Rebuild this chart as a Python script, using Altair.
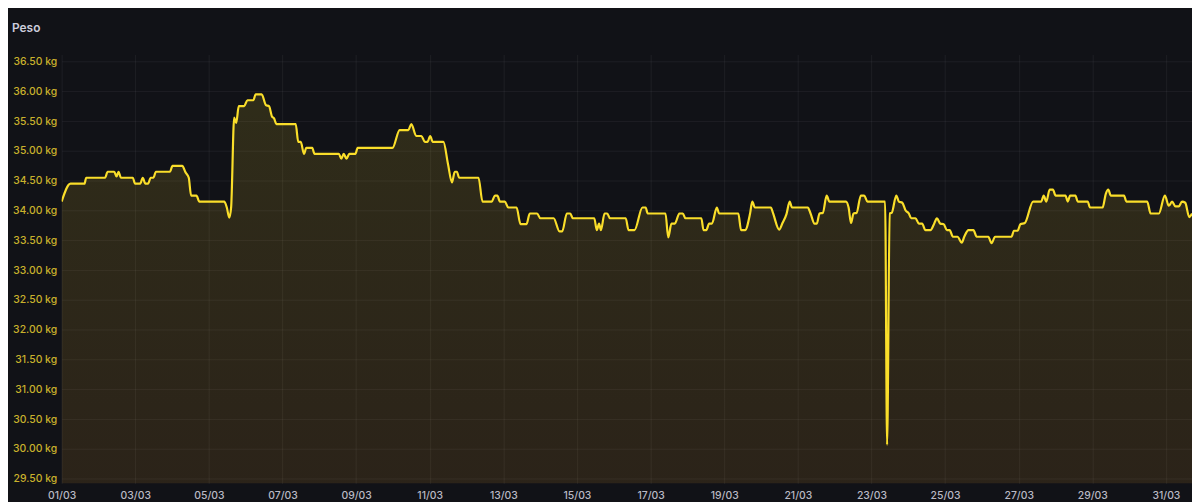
import altair as alt
import pandas as pd

# hours since 01/03 00:00 (UTC) and weight in kg
hours = [0, 5.8, 14.9, 16.0, 28.3, 30.0, 34.3, 35.8, 37.1, 38.7, 46.4, 47.9, 51.2, 52.9, 54.6, 56.3, 58.1, 59.8, 61.5, 70.6,
         72.3, 78.6, 80.8, 82.9, 84.4, 87.9, 89.8, 106.0, 107.7, 109.3, 110.5, 112.5, 113.8, 115.5, 119.0, 121.1, 125.0, 126.5, 130.4, 133.2,
         135.2, 137.3, 138.4, 140.1, 152.6, 154.3, 155.9, 158.0, 159.5, 163.4, 164.9, 180.7, 182.4, 183.9, 185.7, 187.6, 191.5, 193.0, 215.7, 220.4,
         226.0, 228.0, 231.2, 234.6, 236.8, 238.5, 240.3, 242.0, 248.9, 251.9, 254.5, 256.3, 257.7, 259.2, 271.8, 274.4, 280.4, 282.5, 284.1, 285.8,
         289.0, 291.2, 296.6, 299.2, 303.1, 305.2, 310.0, 312.1, 320.8, 324.6, 326.4, 329.4, 331.6, 333.3, 347.3, 348.9, 350.4, 351.6, 354.0, 355.7,
         357.5, 367.8, 369.6, 373.5, 378.7, 380.8, 382.1, 393.7, 395.5, 397.6, 399.8, 402.8, 405.0, 406.7, 417.1, 418.5, 420.3, 422.2, 424.0, 427.2,
         428.7, 441.2, 443.0, 445.6, 448.8, 450.3, 452.0, 462.4, 463.9, 467.8, 470.0, 472.6, 474.7, 476.2, 486.5, 488.3, 490.9, 492.4, 494.1, 496.3,
         498.8, 500.6, 511.4, 513.1, 514.7, 516.3, 518.3, 521.1, 523.3, 525.4, 536.9, 538.2, 539.9, 541.2, 544.2, 545.9, 548.1, 550.3, 552.4, 553.9,
         556.7, 558.9, 561.0, 563.2, 566.5, 568.6, 570.7, 572.9, 575.1, 577.2, 579.0, 581.1, 584.1, 586.9, 588.5, 591.3, 594.5, 596.6, 604.2, 606.3,
         608.6, 619.3, 620.9, 623.3, 625.1, 628.0, 633.4, 638.7, 640.3, 642.0, 644.2, 646.3, 648.1, 654.5, 656.0, 657.5, 661.0, 662.5, 669.0, 670.5,
         678.7, 680.8, 682.4, 684.1, 692.7, 694.2, 707.8, 710.0, 715.4, 719.3, 721.9, 724.0, 726.2, 728.4, 730.5, 732.6, 735.2, 737.0]

weights = [34.15, 34.45, 34.45, 34.55, 34.55, 34.65, 34.65, 34.57, 34.65, 34.55, 34.55, 34.45, 34.45, 34.55, 34.45, 34.45, 34.55, 34.55, 34.65, 34.65,
           34.75, 34.75, 34.64, 34.55, 34.25, 34.25, 34.15, 34.15, 34.05, 33.88, 34.05, 35.56, 35.47, 35.75, 35.75, 35.85, 35.85, 35.95, 35.95, 35.77,
           35.75, 35.57, 35.55, 35.45, 35.45, 35.15, 35.15, 34.95, 35.05, 35.05, 34.95, 34.95, 34.87, 34.95, 34.87, 34.95, 34.95, 35.05, 35.05, 35.35,
           35.35, 35.45, 35.25, 35.25, 35.15, 35.15, 35.25, 35.15, 35.15, 34.78, 34.47, 34.65, 34.65, 34.55, 34.55, 34.15, 34.15, 34.25, 34.25, 34.15,
           34.15, 34.05, 34.05, 33.77, 33.77, 33.95, 33.95, 33.87, 33.87, 33.65, 33.65, 33.95, 33.95, 33.87, 33.87, 33.67, 33.78, 33.67, 33.95, 33.95,
           33.87, 33.87, 33.67, 33.67, 34.05, 34.05, 33.95, 33.95, 33.55, 33.78, 33.78, 33.95, 33.95, 33.87, 33.87, 33.67, 33.67, 33.78, 33.78, 34.05,
           33.95, 33.95, 33.67, 33.67, 33.94, 34.15, 34.05, 34.05, 33.95, 33.68, 33.79, 33.94, 34.15, 34.05, 34.05, 33.95, 33.78, 33.78, 33.95, 33.96,
           34.25, 34.15, 34.15, 34.05, 33.79, 33.95, 33.96, 34.25, 34.25, 34.15, 34.15, 30.07, 33.95, 33.96, 34.25, 34.15, 34.13, 34.00, 33.95, 33.87,
           33.87, 33.78, 33.78, 33.67, 33.67, 33.76, 33.87, 33.78, 33.77, 33.67, 33.67, 33.56, 33.56, 33.46, 33.56, 33.67, 33.67, 33.56, 33.56, 33.45,
           33.56, 33.56, 33.66, 33.66, 33.77, 33.79, 34.15, 34.15, 34.25, 34.15, 34.35, 34.35, 34.25, 34.25, 34.15, 34.25, 34.25, 34.15, 34.15, 34.05,
           34.05, 34.28, 34.35, 34.25, 34.25, 34.15, 34.15, 33.95, 33.95, 34.25, 34.08, 34.15, 34.07, 34.07, 34.15, 34.13, 33.89, 33.95]

assert len(hours) == len(weights), (len(hours), len(weights))

tick_days = [1, 3, 5, 7, 9, 11, 13, 15, 17, 19, 21, 23, 25, 27, 29, 31]
y_ticks = [29.5, 30.0, 30.5, 31.0, 31.5, 32.0, 32.5, 33.0, 33.5, 34.0, 34.5, 35.0, 35.5, 36.0, 36.5]
y_min, y_max = 29.42, 36.62

start = pd.Timestamp("2024-03-01T00:00:00")
times = [(start + pd.Timedelta(hours=h)).strftime("%Y-%m-%dT%H:%M:%SZ") for h in hours]
df = pd.DataFrame({"time": times, "peso": weights})

W, H = 1138, 432
BG = "#111217"
LINE = "#FADE2A"
GRID = "#ccccdc"

x_enc = alt.X(
    "time:T",
    scale=alt.Scale(
        type="utc",
        domain=[alt.DateTime(year=2024, month=3, date=1, hours=0, utc=True),
                alt.DateTime(year=2024, month=3, date=31, hours=17, utc=True)],
        nice=False,
    ),
    axis=alt.Axis(
        values=[alt.DateTime(year=2024, month=3, date=d, utc=True) for d in tick_days],
        labelExpr="utcFormat(datum.value, '%d/%m')",
        title=None,
        grid=True,
        gridColor=GRID,
        gridOpacity=0.07,
        ticks=False,
        domain=False,
        labelColor="#b9b9c4",
        labelFont="Inter",
        labelFontSize=10.5,
        labelFontWeight=500,
        labelPadding=7,
        labelFlush=False,
        labelOverlap=False,
    ),
)

y_enc = alt.Y(
    "peso:Q",
    scale=alt.Scale(domain=[y_min, y_max], nice=False, zero=False),
    axis=alt.Axis(
        values=y_ticks,
        labelExpr="format(datum.value, '.2f') + ' kg'",
        title=None,
        grid=True,
        gridColor=GRID,
        gridOpacity=0.07,
        ticks=False,
        domain=False,
        labelColor="#c9b12c",
        labelFont="Inter",
        labelFontSize=10.5,
        labelFontWeight=500,
        labelPadding=5,
        labelOverlap=False,
        labelFlush=False,
    ),
)

base = alt.Chart(df)

area = base.mark_area(
    interpolate="monotone",
    clip=True,
    color=alt.Gradient(
        gradient="linear",
        stops=[
            alt.GradientStop(color="rgba(250,222,42,0.13)", offset=0),
            alt.GradientStop(color="rgba(233,160,40,0.12)", offset=1),
        ],
        x1=0, x2=0, y1=0, y2=1,
    ),
).encode(x=x_enc, y=y_enc, y2=alt.datum(y_min))

line = base.mark_line(
    interpolate="monotone", clip=True, color=LINE, strokeWidth=2.2
).encode(x=x_enc, y=y_enc)

chart = (
    alt.layer(area, line)
    .properties(
        width=W,
        height=H,
        title=alt.TitleParams(
            "Peso",
            anchor="start",
            frame="group",
            dx=-50,
            offset=20,
            font="Inter",
            fontSize=12,
            fontWeight=600,
            color="#ccccdc",
        ),
        background=BG,
        padding={"left": 54, "top": 45, "right": 0, "bottom": 17},
        autosize=alt.AutoSizeParams(type="none"),
    )
    .configure_view(stroke=None)
)

chart.save("out.html", embed_options={"renderer": "svg", "actions": False})
